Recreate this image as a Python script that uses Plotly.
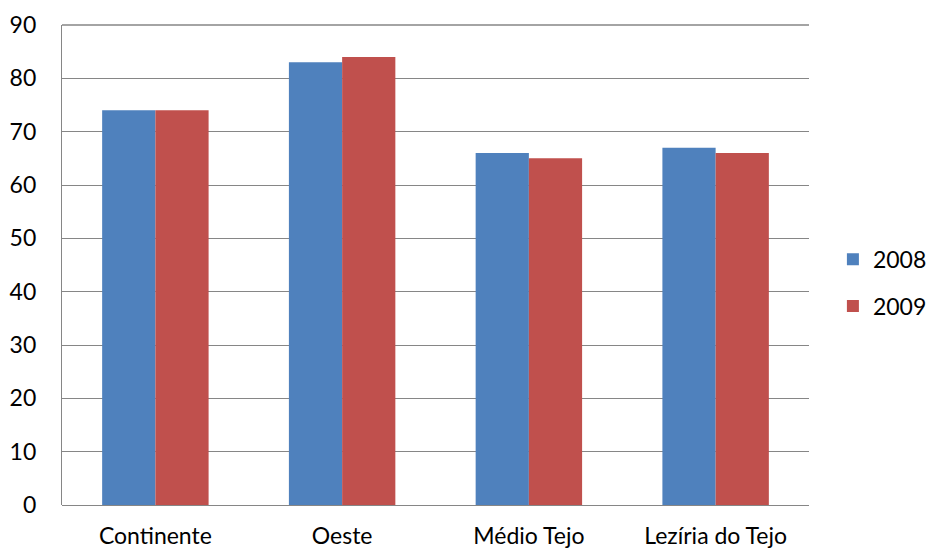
import plotly.graph_objects as go

categories = ["Continente", "Oeste", "Médio Tejo", "Lezíria do Tejo"]
values_2008 = [74, 83, 66, 67]
values_2009 = [74, 84, 65, 66]
series_names = ["2008", "2009"]
tick_vals = [0, 10, 20, 30, 40, 50, 60, 70, 80, 90]

FONT = "Lato, 'Liberation Sans', sans-serif"
FS = 23

fig = go.Figure()
fig.add_trace(go.Bar(x=categories, y=values_2008, name=series_names[0],
                     marker=dict(color="#4F81BD", line=dict(width=0)),
                     legendgroup="a"))
fig.add_trace(go.Bar(x=categories, y=values_2009, name=series_names[1],
                     marker=dict(color="#C0504D", line=dict(width=0)),
                     legendgroup="b"))

fig.update_layout(
    width=930, height=552,
    margin=dict(l=62, r=121, t=25, b=47, autoexpand=False),
    paper_bgcolor="white", plot_bgcolor="white",
    barmode="group", bargap=0.43, bargroupgap=0,
    font=dict(family=FONT, size=FS, color="#000000"),
    legend=dict(x=1.032, xanchor="left", y=0.463, yanchor="middle",
                tracegroupgap=14, font=dict(size=FS, family=FONT),
                bgcolor="rgba(0,0,0,0)"),
    xaxis=dict(showgrid=False, showline=False, ticks="", automargin=False,
               ticklabelstandoff=15, tickfont=dict(size=FS)),
    yaxis=dict(range=[0, 90], tickvals=tick_vals, showgrid=True, automargin=False,
               gridcolor="#868686", gridwidth=1.3,
               showline=True, linecolor="#868686", linewidth=1.3,
               zeroline=True, zerolinecolor="#868686", zerolinewidth=1.3,
               ticks="", ticklabelstandoff=20, tickfont=dict(size=FS)),
)
fig.add_shape(type="line", xref="paper", yref="paper", x0=0, x1=1, y0=1, y1=1,
              line=dict(color="#868686", width=1.3))

fig.write_html("out.html")
